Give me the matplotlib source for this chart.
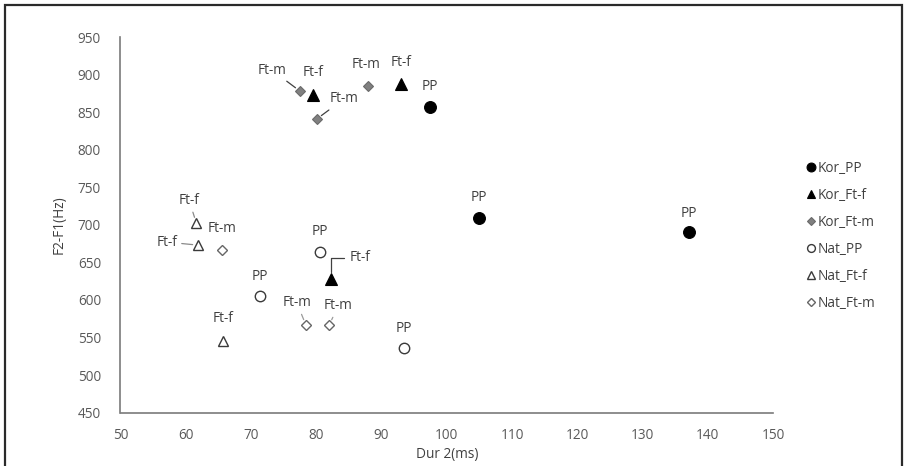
import matplotlib
matplotlib.use("Agg")
import matplotlib.pyplot as plt
from matplotlib.patches import Rectangle

# ---- data ----
kor_pp_x = [97.4, 105.0, 137.1]
kor_pp_y = [857, 709, 690]
kor_pp_lab = ["PP", "PP", "PP"]

kor_ftf_x = [79.5, 93.0, 82.3]
kor_ftf_y = [873, 887, 628]
kor_ftf_lab = ["Ft-f", "Ft-f", "Ft-f"]

kor_ftm_x = [77.5, 80.1, 88.0]
kor_ftm_y = [878, 841, 885]
kor_ftm_lab = ["Ft-m", "Ft-m", "Ft-m"]

nat_pp_x = [71.4, 80.6, 93.5]
nat_pp_y = [605, 664, 536]
nat_pp_lab = ["PP", "PP", "PP"]

nat_ftf_x = [61.6, 61.9, 65.7]
nat_ftf_y = [703, 673, 546]
nat_ftf_lab = ["Ft-f", "Ft-f", "Ft-f"]

nat_ftm_x = [65.5, 78.4, 82.0]
nat_ftm_y = [667, 567, 567]
nat_ftm_lab = ["Ft-m", "Ft-m", "Ft-m"]

x_ticks = [50, 60, 70, 80, 90, 100, 110, 120, 130, 140, 150]
y_ticks = [450, 500, 550, 600, 650, 700, 750, 800, 850, 900, 950]
series_names = ["Kor_PP", "Kor_Ft-f", "Kor_Ft-m", "Nat_PP", "Nat_Ft-f", "Nat_Ft-m"]

# ---- layout / styles ----
plt.rcParams['font.family'] = ['Open Sans', 'DejaVu Sans']
W, H = 915, 466
fig = plt.figure(figsize=(W / 100, H / 100), dpi=100)
ax = fig.add_axes([120.5 / W, 1 - 412.7 / H, (773 - 120.5) / W, (412.7 - 37) / H])

tick_color = "#595959"
text_color = "#404040"
fs = 9.8

styles = [
    dict(marker="o", ms=8.5, mfc="black", mec="black", mew=0.8),
    dict(marker="^", ms=8.5, mfc="black", mec="black", mew=0.8),
    dict(marker="D", ms=5.5, mfc="#808080", mec="#6a6a6a", mew=0.8),
    dict(marker="o", ms=7.5, mfc="white", mec="#3a3a3a", mew=1.0),
    dict(marker="^", ms=7.8, mfc="white", mec="#3a3a3a", mew=1.0),
    dict(marker="D", ms=5.2, mfc="white", mec="#666666", mew=1.0),
]
xs = [kor_pp_x, kor_ftf_x, kor_ftm_x, nat_pp_x, nat_ftf_x, nat_ftm_x]
ys = [kor_pp_y, kor_ftf_y, kor_ftm_y, nat_pp_y, nat_ftf_y, nat_ftm_y]
labs = [kor_pp_lab, kor_ftf_lab, kor_ftm_lab, nat_pp_lab, nat_ftf_lab, nat_ftm_lab]

handles = []
for name, st, x, y in zip(series_names, styles, xs, ys):
    h, = ax.plot(x, y, linestyle="none", label=name, zorder=3, **st)
    handles.append(h)

# label offsets in pixels (dx, dy) and whether a leader line is drawn
offsets = [
    [(0, 20, None), (0, 21, None), (0, 19, None)],
    [(0, 22, None), (0, 22, None), (29, 21, "elbow")],
    [(-28, 21, "line"), (27, 20, "line"), (-2, 21, None)],
    [(0, 20, None), (0, 20, None), (0, 20, None)],
    [(-7, 22, "line"), (-31, 3, "line"), (0, 22, None)],
    [(0, 21, None), (-9, 22, "line"), (9, 19, "line")],
]
line_colors = ["#404040", "#404040", "#404040", "#8a8a8a", "#8a8a8a", "#9a9a9a"]

for si in range(6):
    for x, y, lab, (dx, dy, lead) in zip(xs[si], ys[si], labs[si], offsets[si]):
        kw = dict(xy=(x, y), xytext=(dx, dy), textcoords="offset pixels",
                  ha="center", va="center", fontsize=fs, color=text_color, zorder=4)
        if lead == "line":
            kw["arrowprops"] = dict(arrowstyle="-", color=line_colors[si], lw=0.9,
                                    shrinkA=1, shrinkB=4)
        elif lead == "elbow":
            kw["arrowprops"] = dict(arrowstyle="-", color=line_colors[si], lw=0.9,
                                    shrinkA=2, shrinkB=5, relpos=(0, 0.5),
                                    connectionstyle="angle,angleA=0,angleB=90,rad=0")
        ax.annotate(lab, **kw)

ax.set_xlim(50, 150)
ax.set_ylim(450, 950)
ax.set_xticks(x_ticks)
ax.set_yticks(y_ticks)
ax.tick_params(length=0, labelsize=fs, labelcolor=tick_color)
ax.tick_params(axis="y", pad=14)
ax.tick_params(axis="x", pad=11)
for s in ["top", "right"]:
    ax.spines[s].set_visible(False)
for s in ["left", "bottom"]:
    ax.spines[s].set_color("#7a7a7a")
    ax.spines[s].set_linewidth(1.2)

ax.set_xlabel("Dur 2(ms)", fontsize=fs, color=text_color, labelpad=3)
ax.set_ylabel("F2-F1(Hz)", fontsize=fs, color=text_color, labelpad=8)

leg = fig.legend(handles=handles, labels=series_names, loc="upper left",
                 bbox_to_anchor=(800 / W, 1 - 154 / H), frameon=False,
                 fontsize=fs, labelspacing=0.88, handlelength=0.6,
                 handletextpad=0.2, borderpad=0, markerscale=0.75)
for t in leg.get_texts():
    t.set_color(text_color)

# outer frame
fig.add_artist(Rectangle((5 / W, -0.05), (902 - 5) / W, (466 - 5) / H + 0.05,
                         transform=fig.transFigure, fill=False, lw=1.6,
                         ec="#2a2a2a", zorder=10))

fig.savefig("out.png", dpi=100)
